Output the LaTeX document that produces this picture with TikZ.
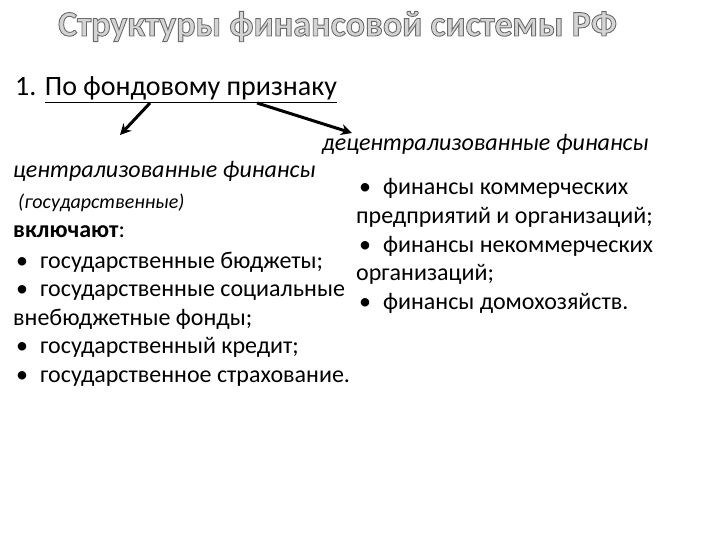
\documentclass[tikz,border=0pt]{standalone}
\usepackage{fontspec}
\setmainfont{Carlito}
\usetikzlibrary{arrows.meta}
\definecolor{titlefill}{HTML}{D4D4D4}
\tikzset{
  txt/.style={anchor=base west, inner sep=0pt, font=\fontsize{24}{28}\selectfont},
  itxt/.style={anchor=base west, inner sep=0pt, font=\fontsize{24}{28}\selectfont\itshape},
  arr/.style={line width=3pt, -{Stealth[length=11pt,width=11pt]}}
}
\newcommand{\bul}{\makebox[27pt][l]{\hspace{3pt}•}}
\begin{document}
\begin{tikzpicture}[x=1pt,y=-1pt]
\useasboundingbox (0,0) rectangle (720,540);
% title
\node[anchor=base west, inner sep=0pt, font=\bfseries\fontsize{36}{40}\selectfont, text=titlefill] (title) at (58,36)
  {\special{pdf:literal 2 Tr 0.9 w 0.42 0.42 0.42 RG}Структуры финансовой системы РФ\special{pdf:literal 0 Tr}};
% heading
\node[txt, font=\fontsize{28}{32}\selectfont] (head) at (15,96) {1. \underline{По фондовому признаку}};
\coordinate (s1) at (150,103);
\coordinate (e1) at (120,135);
\coordinate (s2) at (257,103);
\coordinate (e2) at (352,133);
\draw[arr] (s1) -- (e1);
\draw[arr] (s2) -- (e2);
% right header
\node[itxt] (dec) at (322,151) {децентрализованные финансы};
% left column
\node[itxt] (cen) at (13,178) {централизованные финансы};
\node[itxt, font=\fontsize{20}{22}\selectfont\itshape] (gos) at (18,209) {(государственные)};
\node[txt] (vkl) at (13,237) {\textbf{включают}:};
\node[txt] (l1) at (13,268) {\bul государственные бюджеты;};
\node[txt] (l2) at (13,296.5) {\bul государственные социальные};
\node[txt] (l3) at (13,325) {внебюджетные фонды;};
\node[txt] (l4) at (13,353.5) {\bul государственный кредит;};
\node[txt] (l5) at (13,382) {\bul государственное страхование.};
% right column
\node[txt] (r1) at (356,195) {\bul финансы коммерческих};
\node[txt] (r2) at (356,223.5) {предприятий и организаций;};
\node[txt] (r3) at (356,252) {\bul финансы некоммерческих};
\node[txt] (r4) at (356,280.5) {организаций;};
\node[txt] (r5) at (356,309) {\bul финансы домохозяйств.};
\end{tikzpicture}
\end{document}
